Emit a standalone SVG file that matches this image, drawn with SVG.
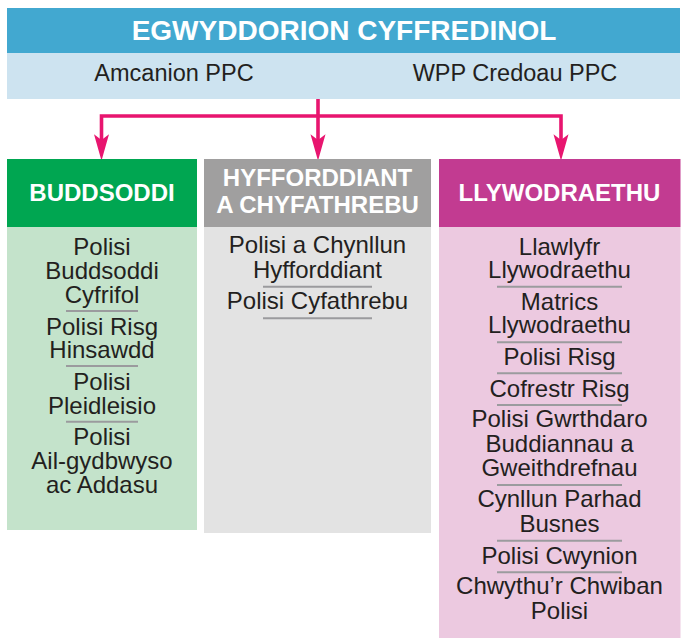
<svg xmlns="http://www.w3.org/2000/svg" width="686" height="639" viewBox="0 0 686 639">
<defs>
<style>
.t{font-family:"Liberation Sans",Arial,sans-serif;font-size:24px;fill:#231f20;text-anchor:middle}
.h{font-family:"Liberation Sans",Arial,sans-serif;font-weight:bold;font-size:24px;fill:#ffffff;text-anchor:middle}
.sep{stroke:#9b9b9e;stroke-width:2}
.con{fill:none;stroke:#e8156f;stroke-width:3.6;stroke-linejoin:miter}
</style>
<marker id="arr" markerUnits="userSpaceOnUse" markerWidth="30" markerHeight="20" viewBox="-6 -8 26 16" refX="0" refY="0" orient="auto">
<path d="M18,0 L-5,-6.5 L0,0 L-5,6.5 Z" fill="#e8156f"/>
</marker>
</defs>
<rect width="686" height="639" fill="#ffffff"/>

<g id="header">
<rect x="7" y="8" width="673" height="45" fill="#42a8d0"/>
<rect x="7" y="53" width="673" height="46" fill="#cde3f0"/>
<text x="344" y="39.5" class="h" style="font-size:28px">EGWYDDORION CYFFREDINOL</text>
<text x="174" y="81" class="t" style="font-size:23.5px">Amcanion PPC</text>
<text x="515" y="81" class="t" style="font-size:23.5px">WPP Credoau PPC</text>
</g>

<g id="connectors">
<path class="con" d="M318,99 V140" marker-end="url(#arr)"/>
<path class="con" d="M318,116 H101.5 V140" marker-end="url(#arr)"/>
<path class="con" d="M318,116 H561 V140" marker-end="url(#arr)"/>
</g>

<g id="buddsoddi">
<rect x="7" y="159" width="190" height="68" fill="#00a651"/>
<rect x="7" y="227" width="190" height="303" fill="#c4e3cb"/>
<text x="102" y="201" class="h">BUDDSODDI</text>
<text class="t"><tspan x="102" y="255">Polisi</tspan><tspan x="102" y="278.5">Buddsoddi</tspan><tspan x="102" y="302.5">Cyfrifol</tspan></text>
<line x1="66" y1="311" x2="138" y2="311" class="sep"/>
<text class="t"><tspan x="102" y="334.5">Polisi Risg</tspan><tspan x="102" y="357.5">Hinsawdd</tspan></text>
<line x1="66" y1="366" x2="138" y2="366" class="sep"/>
<text class="t"><tspan x="102" y="390">Polisi</tspan><tspan x="102" y="414">Pleidleisio</tspan></text>
<line x1="66" y1="421.7" x2="138" y2="421.7" class="sep"/>
<text class="t"><tspan x="102" y="445">Polisi</tspan><tspan x="102" y="468.5">Ail-gydbwyso</tspan><tspan x="102" y="492.5">ac Addasu</tspan></text>
</g>

<g id="hyfforddiant">
<rect x="204" y="159" width="227" height="68" fill="#a09f9f"/>
<rect x="204" y="227" width="227" height="306" fill="#e3e3e3"/>
<text class="h"><tspan x="317.5" y="186">HYFFORDDIANT</tspan><tspan x="317.5" y="213.3">A CHYFATHREBU</tspan></text>
<text class="t"><tspan x="317.5" y="253.3">Polisi a Chynllun</tspan><tspan x="317.5" y="278.3">Hyfforddiant</tspan></text>
<line x1="263" y1="286.7" x2="372" y2="286.7" class="sep"/>
<text x="317.5" y="309.3" class="t">Polisi Cyfathrebu</text>
<line x1="263" y1="318.3" x2="372" y2="318.3" class="sep"/>
</g>

<g id="llywodraethu">
<rect x="439" y="159" width="241.5" height="68" fill="#c23b91"/>
<rect x="439" y="227" width="241.5" height="411" fill="#ecc9e0"/>
<text x="559.5" y="200.7" class="h">LLYWODRAETHU</text>
<text class="t"><tspan x="559.5" y="255">Llawlyfr</tspan><tspan x="559.5" y="278.3">Llywodraethu</tspan></text>
<line x1="497" y1="286.7" x2="622" y2="286.7" class="sep"/>
<text class="t"><tspan x="559.5" y="310">Matrics</tspan><tspan x="559.5" y="333.3">Llywodraethu</tspan></text>
<line x1="497" y1="342.3" x2="622" y2="342.3" class="sep"/>
<text x="559.5" y="365" class="t">Polisi Risg</text>
<line x1="497" y1="373.3" x2="622" y2="373.3" class="sep"/>
<text x="559.5" y="397" class="t">Cofrestr Risg</text>
<line x1="497" y1="405" x2="622" y2="405" class="sep"/>
<text class="t"><tspan x="559.5" y="427.3">Polisi Gwrthdaro</tspan><tspan x="559.5" y="451.7">Buddiannau a</tspan><tspan x="559.5" y="476">Gweithdrefnau</tspan></text>
<line x1="497" y1="485" x2="622" y2="485" class="sep"/>
<text class="t"><tspan x="559.5" y="507.3">Cynllun Parhad</tspan><tspan x="559.5" y="531.7">Busnes</tspan></text>
<line x1="497" y1="540.7" x2="622" y2="540.7" class="sep"/>
<text x="559.5" y="564" class="t">Polisi Cwynion</text>
<line x1="497" y1="572.3" x2="622" y2="572.3" class="sep"/>
<text class="t"><tspan x="559.5" y="594">Chwythu’r Chwiban</tspan><tspan x="559.5" y="619.3">Polisi</tspan></text>
</g>
</svg>
